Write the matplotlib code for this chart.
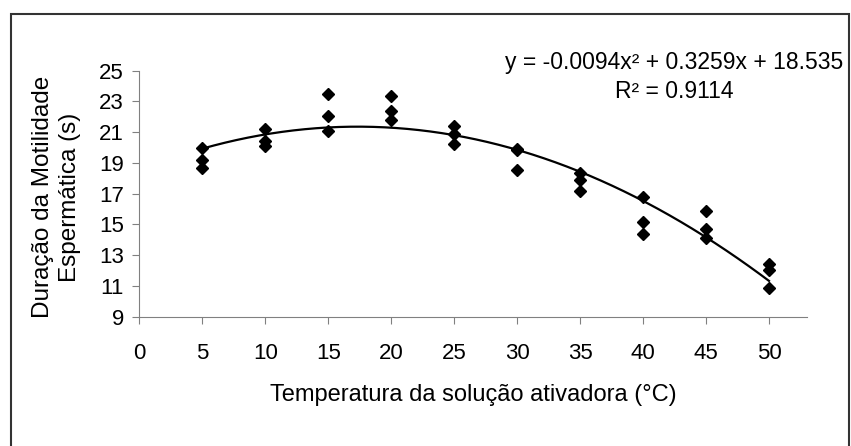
import numpy as np
import matplotlib
matplotlib.use("Agg")
import matplotlib.pyplot as plt
from matplotlib.patches import Rectangle

plt.rcParams['font.family'] = ['Liberation Sans', 'DejaVu Sans']

# temperature (°C) and motility duration (s), three replicates per temperature
temp = [5, 5, 5, 10, 10, 10, 15, 15, 15, 20, 20, 20, 25, 25, 25,
        30, 30, 30, 35, 35, 35, 40, 40, 40, 45, 45, 45, 50, 50, 50]
duracao = [20.0, 19.2, 18.7, 21.2, 20.4, 20.1, 23.5, 22.05, 21.05,
           23.35, 22.35, 21.8, 21.4, 20.9, 20.2, 19.9, 19.85, 18.55,
           18.35, 17.9, 17.2, 16.8, 15.15, 14.4, 15.9, 14.7, 14.15,
           12.4, 12.05, 10.85]

# trendline coefficients as printed on the chart
coef = [-0.0094, 0.3259, 18.535]
r2 = 0.9114

xticks = list(range(0, 55, 5))
yticks = list(range(9, 27, 2))

fig = plt.figure(figsize=(8.51, 4.46), dpi=100)
ax = fig.add_axes([0.1637, 0.2899, 0.7843, 0.5516])

ax.plot(temp, duracao, linestyle='none', marker='D', color='black', markersize=6.5)
xs = np.linspace(min(temp), max(temp), 200)
ax.plot(xs, np.polyval(coef, xs), color='black', linewidth=1.6)

ax.set_xlim(0, 53)
ax.set_ylim(9, 25)
ax.set_xticks(xticks)
ax.set_yticks(yticks)
for s in ['top', 'right']:
    ax.spines[s].set_visible(False)
for s in ['left', 'bottom']:
    ax.spines[s].set_color('#808080')
ax.tick_params(axis='both', direction='out', length=5, color='#808080', labelsize=16)
ax.tick_params(axis='x', pad=14)
ax.tick_params(axis='y', pad=6)

ax.set_xlabel('Temperatura da solução ativadora (°C)', fontsize=17, labelpad=14)
fig.text(56.5 / 851, 1 - 197 / 446, 'Duração da Motilidade\nEspermática (s)',
         rotation=90, ha='center', va='center', fontsize=17.5, linespacing=1.3,
         multialignment='center')

eq = 'y = {:.4f}x² + {:.4f}x + {:.3f}'.format(coef[0], coef[1], coef[2])
fig.text(674 / 851, 1 - 62 / 446, eq, ha='center', va='center', fontsize=16.5)
fig.text(674 / 851, 1 - 92 / 446, 'R² = {:.4f}'.format(r2), ha='center', va='center',
         fontsize=16.5)

fig.patches.append(Rectangle((11 / 851, -0.05), 838 / 851, 1.05 - 14 / 446,
                             transform=fig.transFigure, fill=False,
                             edgecolor='#333333', linewidth=1.5))

fig.savefig('out.png', dpi=100)
